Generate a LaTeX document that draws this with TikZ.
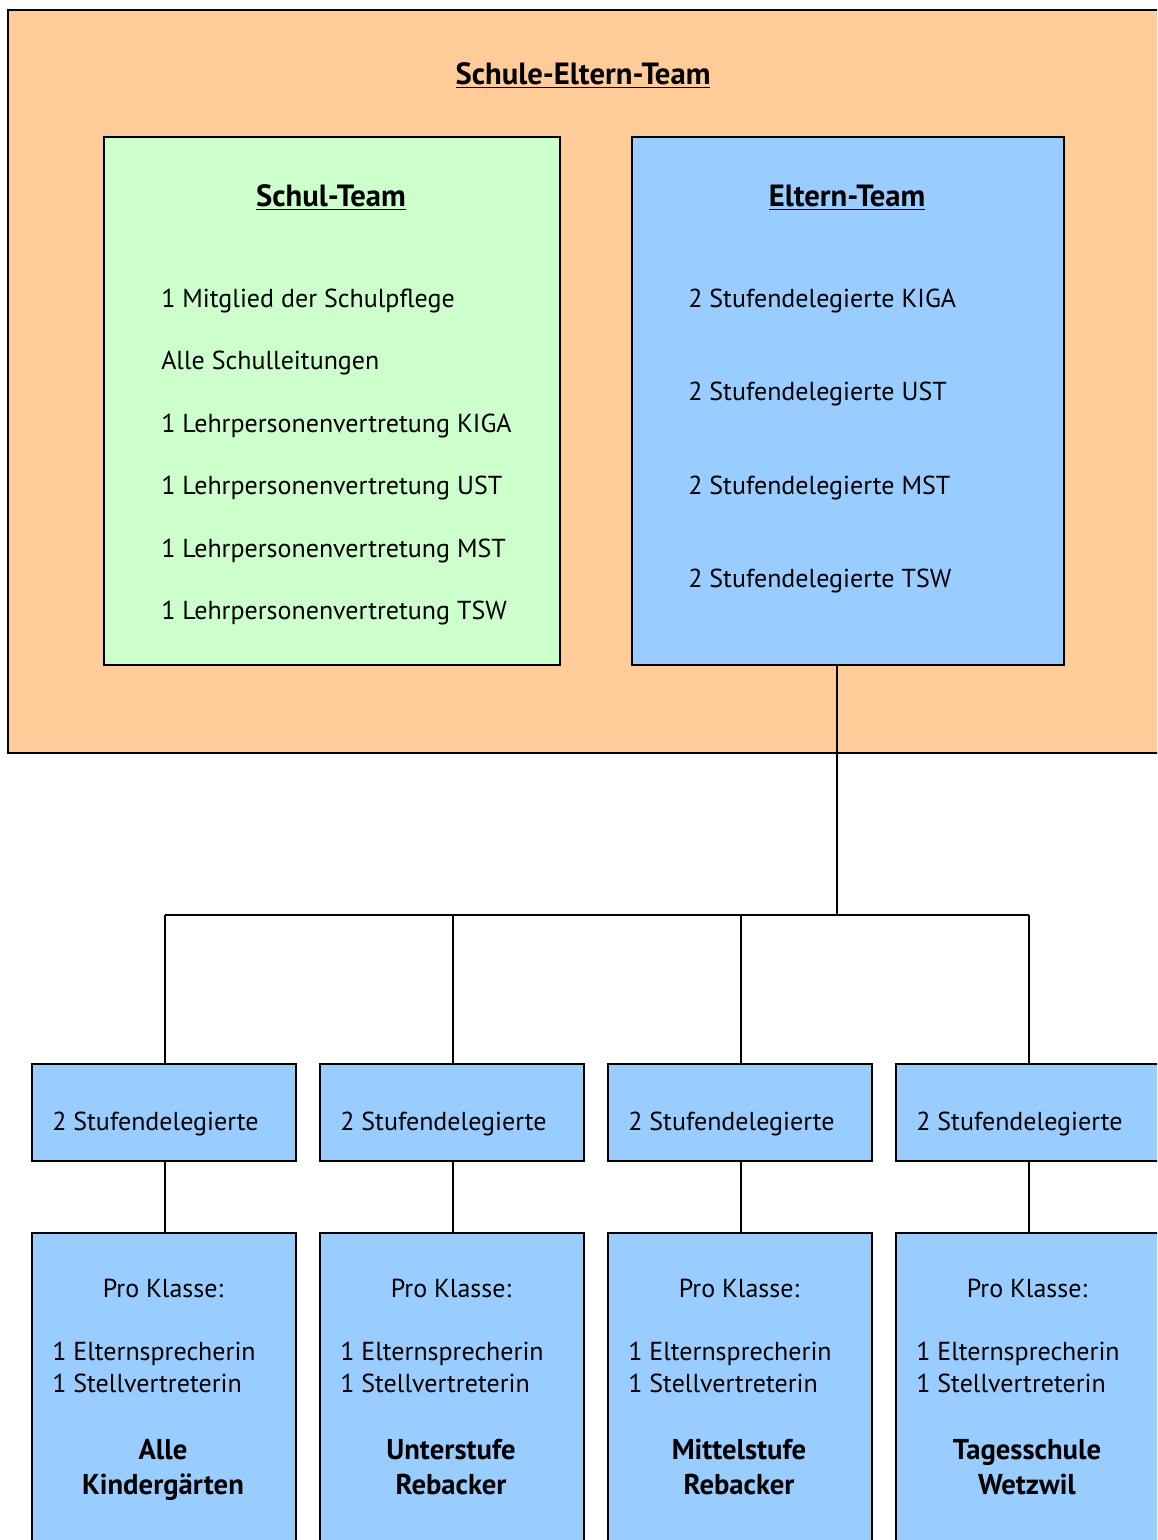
\documentclass[tikz,border=0pt]{standalone}
\usepackage{fontspec}
\setmainfont{PT Sans}
\definecolor{outerc}{HTML}{FFCC99}
\definecolor{greenc}{HTML}{CCFFCC}
\definecolor{bluec}{HTML}{99CCFF}
\tikzset{
  box/.style={draw=black, line width=1.5pt, anchor=north west, inner sep=0pt},
  body/.style={inner sep=0pt, font=\fontsize{19.5}{23}\selectfont},
  ttl/.style={inner sep=0pt, font=\bfseries\fontsize{23}{27}\selectfont},
  bold/.style={inner sep=0pt, font=\bfseries\fontsize{21.5}{26}\selectfont},
  conn/.style={draw=black, line width=1.3pt},
}
\begin{document}
\begin{tikzpicture}[x=0.75pt,y=-0.75pt]
\useasboundingbox (0,0) rectangle (1157,1540);
\clip (0,0) rectangle (1157,1540);
% outer box
\node[box, fill=outerc, minimum width=1160*0.75pt, minimum height=743*0.75pt] (outer) at (7,9) {};
\node[ttl, anchor=base] (t0) at (583,85) {\underline{Schule-Eltern-Team}};
% Schul-Team
\node[box, fill=greenc, minimum width=456*0.75pt, minimum height=528*0.75pt] (schul) at (103,136) {};
\node[ttl, anchor=base] (t1) at (331,207) {\underline{Schul-Team}};
\node[body, anchor=base west] (s1) at (161,308) {1 Mitglied der Schulpflege};
\node[body, anchor=base west] (s2) at (161,370) {Alle Schulleitungen};
\node[body, anchor=base west] (s3) at (161,432) {1 Lehrpersonenvertretung KIGA};
\node[body, anchor=base west] (s4) at (161,494) {1 Lehrpersonenvertretung UST};
\node[body, anchor=base west] (s5) at (161,557) {1 Lehrpersonenvertretung MST};
\node[body, anchor=base west] (s6) at (161,619) {1 Lehrpersonenvertretung TSW};
% Eltern-Team
\node[box, fill=bluec, minimum width=432*0.75pt, minimum height=528*0.75pt] (eltern) at (631,136) {};
\node[ttl, anchor=base] (t2) at (847,207) {\underline{Eltern-Team}};
\node[body, anchor=base west] (e1) at (688,308) {2 Stufendelegierte KIGA};
\node[body, anchor=base west] (e2) at (688,401) {2 Stufendelegierte UST};
\node[body, anchor=base west] (e3) at (688,494) {2 Stufendelegierte MST};
\node[body, anchor=base west] (e4) at (688,587) {2 Stufendelegierte TSW};
% junction
\coordinate (jc) at (837,915);
\coordinate (jl) at (165,915);
\coordinate (jr) at (1029,915);
\draw[conn] (eltern.south -| jc) -- (jc);
\draw[conn] (jl) -- (jr);
% lower columns
\foreach \i/\x/\a/\b in {1/31/Alle/Kindergärten, 2/319/Unterstufe/Rebacker, 3/607/Mittelstufe/Rebacker, 4/895/Tagesschule/Wetzwil} {
  \pgfmathsetmacro{\cx}{\x+134}
  \node[box, fill=bluec, minimum width=264*0.75pt, minimum height=97*0.75pt] (d\i) at (\x,1063) {};
  \node[body, anchor=base west] (dl\i) at (\x+21,1130) {2 Stufendelegierte};
  \node[box, fill=bluec, minimum width=264*0.75pt, minimum height=330*0.75pt] (k\i) at (\x,1232) {};
  \node[body, anchor=base] (p\i) at (\cx-2,1297) {Pro Klasse:};
  \node[body, anchor=base west] (ea\i) at (\x+21,1360) {1 Elternsprecherin};
  \node[body, anchor=base west] (eb\i) at (\x+21,1392) {1 Stellvertreterin};
  \node[bold, anchor=base] (na\i) at (\cx-2,1459) {\a};
  \node[bold, anchor=base] (nb\i) at (\cx-2,1494) {\b};
  \coordinate (top\i) at (\cx,915);
  \draw[conn] (top\i) -- (top\i |- d\i.north);
  \draw[conn] (d\i.south -| top\i) -- (k\i.north -| top\i);
}
\end{tikzpicture}
\end{document}
